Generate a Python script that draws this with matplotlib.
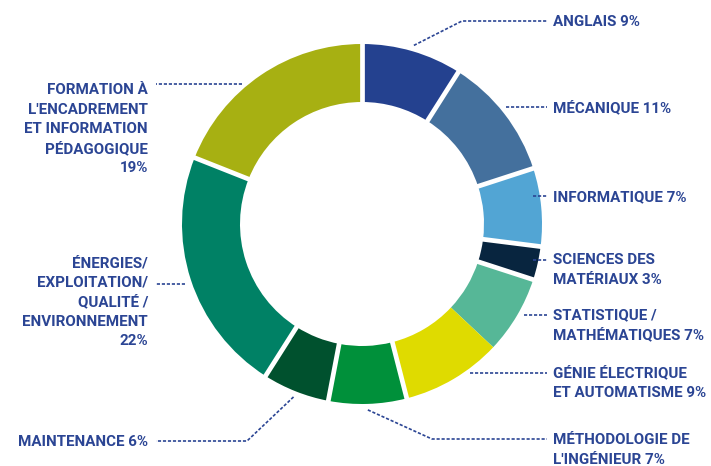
import numpy as np
import matplotlib
matplotlib.use("Agg")
import matplotlib.pyplot as plt
from matplotlib import font_manager

# ---------------- data ----------------
categories = [
    "ANGLAIS", "MÉCANIQUE", "INFORMATIQUE", "SCIENCES DES MATÉRIAUX",
    "STATISTIQUE / MATHÉMATIQUES", "GÉNIE ÉLECTRIQUE ET AUTOMATISME",
    "MÉTHODOLOGIE DE L'INGÉNIEUR", "MAINTENANCE",
    "ÉNERGIES/ EXPLOITATION/ QUALITÉ / ENVIRONNEMENT",
    "FORMATION À L'ENCADREMENT ET INFORMATION PÉDAGOGIQUE",
]
values = [9, 11, 7, 3, 7, 9, 7, 6, 22, 19]
label_lines = [
    ["ANGLAIS 9%"],
    ["MÉCANIQUE 11%"],
    ["INFORMATIQUE 7%"],
    ["SCIENCES DES", "MATÉRIAUX 3%"],
    ["STATISTIQUE /", "MATHÉMATIQUES 7%"],
    ["GÉNIE ÉLECTRIQUE", "ET AUTOMATISME 9%"],
    ["MÉTHODOLOGIE DE", "L'INGÉNIEUR 7%"],
    ["MAINTENANCE 6%"],
    ["ÉNERGIES/", "EXPLOITATION/", "QUALITÉ /", "ENVIRONNEMENT", "22%"],
    ["FORMATION À", "L'ENCADREMENT", "ET INFORMATION", "PÉDAGOGIQUE", "19%"],
]

# ---------------- style / layout ----------------
colors = ["#24418f", "#44709d", "#52a5d4", "#08253f", "#56b797",
          "#dfdb00", "#00903a", "#00512e", "#008165", "#a7b012"]
text_color = "#2b4594"
W, H = 711, 466
CX, CY = 362, 224          # pixel coords (y down)
R_OUT, R_IN = 180, 122
no_gap_after = {4}         # no white separator between these wedges

# label layout: side, first line center y (px), elbow (px) for diagonal leaders
side = ["R", "R", "R", "R", "R", "R", "R", "L", "L", "L"]
first_y = [21, 107, 196, 259, 314, 372, 439, 441, 262, 89]
leader_line_idx = [0, 0, 0, 0, 0, 0, 0, 0, 1, 0]
leader_offset = [0, 0, 0, 1, 1, 1, 0, 0, 2, -5]
elbow = {0: (462, 21), 6: (432, 439), 7: (247, 441)}
LINE_STEP = 19.5
X_RIGHT_TEXT, X_RIGHT_END = 553, 547
X_LEFT_TEXT, X_LEFT_END = 148, 156

avail = {f.name for f in font_manager.fontManager.ttflist}
family = "Roboto" if "Roboto" in avail else "DejaVu Sans"
FS = 10.9
cap_px = 0.711 * FS * 100 / 72


def Y(y):
    return H - y


fig = plt.figure(figsize=(W / 100, H / 100), dpi=100)
ax = fig.add_axes([0, 0, 1, 1])

ax.pie(values, colors=colors, startangle=90, counterclock=False,
       radius=R_OUT, center=(CX, Y(CY)),
       wedgeprops=dict(width=R_OUT - R_IN, edgecolor="none", linewidth=0))

# white separators between wedges
total = sum(values)
bounds = np.cumsum([0] + values)
for i, b in enumerate(bounds[:-1]):
    if (i - 1) in no_gap_after:
        continue
    th = np.deg2rad(90 - 360 * b / total)
    r = np.array([R_IN - 3, R_OUT + 3])
    ax.plot(CX + r * np.cos(th), Y(CY) + r * np.sin(th),
            color="white", lw=3.4, solid_capstyle="butt", zorder=3)

ax.set_xlim(0, W)
ax.set_ylim(0, H)
ax.set_aspect("equal")
ax.axis("off")

dash_kw = dict(color=text_color, lw=1.2, dashes=(1.9, 1.1), zorder=4)

for i, lines in enumerate(label_lines):
    ys = [first_y[i] + k * LINE_STEP for k in range(len(lines))]
    if side[i] == "R":
        x_txt, ha, x_end = X_RIGHT_TEXT, "left", X_RIGHT_END
    else:
        x_txt, ha, x_end = X_LEFT_TEXT, "right", X_LEFT_END
    for k, (t, yy) in enumerate(zip(lines, ys)):
        ax.text(x_txt, Y(yy + cap_px / 2), t, ha=ha, va="baseline",
                fontsize=FS, fontweight="bold", color=text_color,
                family=family)
    ly = ys[leader_line_idx[i]] + leader_offset[i]
    if i in elbow:
        mid = (bounds[i] + bounds[i + 1]) / 2
        th = np.deg2rad(90 - 360 * mid / total)
        sx = CX + (R_OUT + 6) * np.cos(th)
        sy = Y(CY) + (R_OUT + 6) * np.sin(th)
        ex, ey = elbow[i]
        ax.plot([sx, ex, x_end], [sy, Y(ey), Y(ey)], **dash_kw)
    else:
        dy = ly - CY
        edge = np.sqrt(max(R_OUT ** 2 - dy ** 2, 0))
        if side[i] == "R":
            sx = min(CX + edge + 7, x_end - 14)
        else:
            sx = max(CX - edge - 7, x_end + 14)
        ax.plot([sx, x_end], [Y(ly), Y(ly)], **dash_kw)

fig.savefig("out.png", dpi=100, facecolor="white")
